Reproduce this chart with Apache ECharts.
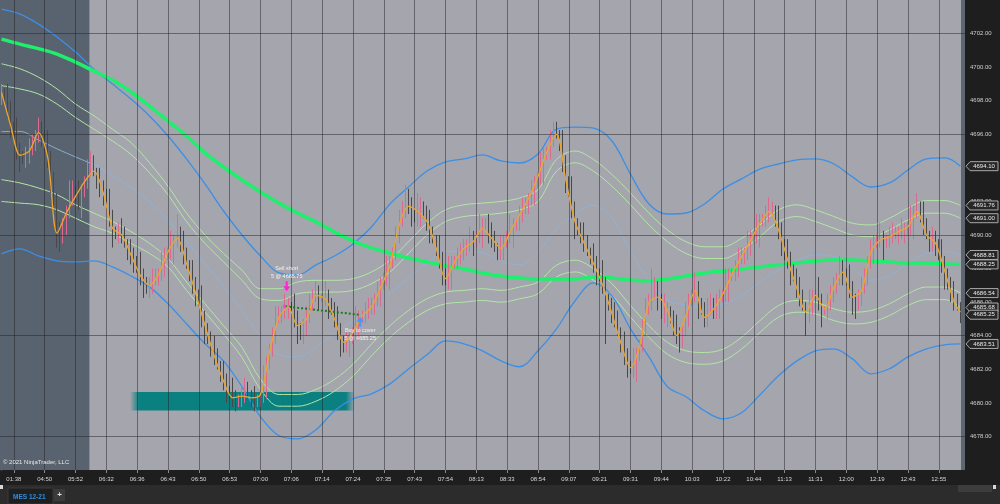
<!DOCTYPE html>
<html><head><meta charset="utf-8">
<script src="https://cdn.jsdelivr.net/npm/echarts@6/dist/echarts.min.js"></script>
<style>html,body{margin:0;padding:0;background:#1e1e1e;overflow:hidden}#c{width:1000px;height:504px}</style>
</head><body><div id="c"></div>
<script>
// ---------- data ----------
const timeLabels = ['01:38','04:50','05:52','06:32','06:36','06:43','06:50','06:53','07:00','07:06','07:14','07:24','07:35','07:43','07:54','08:13','08:33','08:54','09:07','09:21','09:31','09:44','10:03','10:22','10:44','11:13','11:31','12:00','12:19','12:43','12:55'];
const labelBars = [4,14,24,34,44,54,64,74,84,94,104,114,124,134,144,154,164,174,184,194,204,214,224,234,244,254,264,274,284,294,304];
const slotCount = 313;

const opens = [
4698.0,4698.5,4698.25,4697.5,4696.5,4696.0,4695.0,4694.75,4694.5,4694.75,
4695.0,4695.5,4696.0,4696.25,4696.0,4695.25,4694.5,4693.5,4692.0,4690.0,
4689.75,4690.5,4691.5,4692.5,4692.75,4692.25,4692.0,4692.5,4693.25,4694.0,
4694.25,4693.75,4693.25,4692.75,4692.5,4691.75,4691.0,4690.25,4690.0,4690.25,
4690.0,4689.5,4689.0,4688.75,4688.5,4688.0,4687.5,4687.25,4686.75,4687.0,
4687.25,4687.5,4687.75,4688.25,4688.75,4689.0,4689.25,4689.5,4690.0,4689.5,
4688.75,4688.25,4687.75,4687.0,4686.5,4686.0,4685.0,4684.5,4683.75,4683.25,
4682.75,4682.25,4681.75,4681.25,4680.75,4680.5,4680.25,4680.0,4680.25,4680.5,
4680.75,4680.5,4680.25,4680.0,4680.0,4680.5,4681.25,4682.25,4683.25,4684.0,
4685.0,4685.25,4685.5,4685.75,4685.75,4685.5,4685.0,4684.5,4684.0,4684.5,
4685.0,4686.0,4686.5,4686.5,4686.25,4686.25,4686.25,4686.0,4685.5,4685.0,
4684.25,4683.75,4683.5,4683.5,4683.75,4684.25,4684.75,4685.0,4685.25,4685.5,
4685.5,4685.75,4686.25,4686.5,4687.0,4687.5,4687.75,4688.25,4689.0,4690.0,
4690.75,4691.5,4692.0,4691.75,4691.25,4691.0,4691.5,4691.75,4691.25,4690.75,
4690.0,4689.75,4689.25,4688.5,4687.75,4687.25,4687.75,4688.25,4688.5,4688.75,
4688.75,4689.25,4689.5,4689.75,4689.5,4690.0,4690.25,4690.5,4690.75,4690.0,
4689.75,4689.25,4689.0,4689.25,4689.5,4690.0,4690.25,4690.5,4690.75,4691.25,
4691.5,4691.75,4692.25,4692.5,4693.0,4693.5,4694.0,4694.75,4695.0,4695.75,
4696.25,4696.0,4695.5,4694.25,4693.25,4692.5,4691.5,4690.75,4690.25,4690.0,
4689.5,4689.0,4688.75,4688.25,4687.75,4687.5,4687.0,4686.25,4685.75,4685.25,
4685.0,4684.25,4683.5,4682.75,4682.25,4682.0,4682.25,4682.75,4683.5,4684.5,
4685.5,4686.0,4686.75,4686.75,4686.25,4685.25,4685.5,4685.5,4685.0,4684.5,
4684.0,4683.75,4684.5,4685.25,4686.0,4686.5,4686.75,4686.0,4685.5,4685.0,
4685.5,4686.0,4685.5,4685.75,4686.25,4686.5,4687.0,4687.5,4687.75,4688.0,
4688.5,4688.75,4689.0,4689.5,4689.75,4690.0,4690.25,4690.75,4691.0,4691.25,
4691.5,4691.5,4691.0,4690.25,4689.5,4688.75,4688.5,4688.0,4687.5,4686.75,
4686.25,4685.75,4685.25,4686.0,4686.25,4686.5,4686.0,4685.5,4685.5,4686.0,
4686.25,4687.0,4687.5,4688.0,4687.75,4687.25,4686.75,4686.25,4686.0,4686.25,
4686.75,4687.5,4688.5,4689.0,4689.5,4689.75,4689.75,4689.5,4689.75,4690.0,
4690.0,4690.0,4690.25,4690.25,4690.25,4690.5,4690.75,4691.25,4691.5,4691.25,
4690.5,4690.0,4689.5,4689.75,4689.5,4688.75,4688.25,4687.75,4687.0,4686.5,4686.0,4685.75];

const highs = [
4699.0,4698.75,4699.0,4698.0,4696.75,4697.0,4695.5,4695.0,4695.25,4695.75,
4696.0,4696.25,4697.0,4696.75,4696.25,4696.25,4695.0,4693.75,4692.5,4690.75,
4691.0,4691.75,4693.25,4693.25,4693.0,4693.25,4693.0,4693.5,4694.5,4695.0,
4694.75,4694.0,4694.0,4693.25,4692.75,4692.75,4691.5,4690.5,4690.75,4691.0,
4690.5,4689.75,4689.75,4689.25,4688.75,4689.0,4688.0,4687.5,4687.5,4688.0,
4688.0,4688.0,4689.0,4689.25,4689.25,4690.25,4690.0,4691.25,4690.5,4690.25,
4689.25,4688.5,4688.5,4687.5,4686.75,4687.0,4685.5,4684.75,4684.25,4684.0,
4683.25,4682.5,4682.5,4681.75,4681.0,4681.5,4680.75,4680.5,4681.0,4681.5,
4681.25,4680.75,4681.0,4680.5,4680.75,4682.25,4682.75,4683.5,4684.5,4685.75,
4685.75,4685.75,4686.5,4686.25,4686.0,4686.5,4685.5,4684.75,4685.0,4685.75,
4686.5,4686.75,4687.25,4687.0,4686.5,4687.25,4686.75,4686.25,4686.0,4685.75,
4684.75,4684.0,4684.25,4684.25,4684.5,4685.75,4685.5,4685.5,4686.0,4686.25,
4686.25,4686.5,4687.25,4687.5,4687.75,4688.75,4688.75,4689.25,4690.5,4691.5,
4692.0,4693.0,4692.75,4692.25,4691.5,4692.5,4692.25,4692.0,4691.75,4691.5,
4690.5,4690.0,4690.0,4689.0,4688.0,4688.75,4688.75,4688.75,4689.25,4689.5,
4689.75,4689.75,4690.5,4690.25,4690.25,4691.25,4691.0,4691.0,4691.25,4690.75,
4690.25,4689.5,4690.0,4690.0,4690.25,4691.25,4691.0,4691.0,4691.75,4692.25,
4692.25,4692.5,4693.25,4693.5,4693.75,4695.0,4695.25,4695.25,4696.25,4696.75,
4696.75,4696.25,4696.25,4694.75,4693.5,4693.5,4692.0,4691.0,4690.75,4690.75,
4690.0,4689.25,4689.5,4688.75,4688.0,4688.5,4687.5,4686.5,4686.25,4686.0,
4685.5,4684.5,4684.25,4683.25,4682.5,4683.25,4683.25,4683.75,4685.0,4686.25,
4686.5,4688.0,4687.5,4687.25,4686.5,4686.5,4686.0,4685.75,4685.5,4685.25,
4684.5,4684.75,4686.0,4686.5,4686.75,4687.75,4687.25,4686.25,4686.0,4686.25,
4686.5,4686.25,4686.5,4686.75,4686.75,4688.0,4688.0,4688.0,4688.5,4689.25,
4689.25,4689.25,4690.25,4690.25,4690.25,4691.25,4691.25,4691.25,4691.75,4692.25,
4692.0,4691.75,4691.75,4690.75,4689.75,4689.75,4689.0,4688.25,4688.0,4687.5,
4686.75,4686.0,4686.75,4686.75,4686.75,4687.5,4686.5,4685.75,4686.5,4687.0,
4687.5,4687.75,4688.75,4688.5,4688.0,4688.25,4687.25,4686.5,4686.75,4687.5,
4688.0,4688.75,4689.75,4690.0,4690.0,4690.75,4690.25,4690.0,4690.5,4690.75,
4690.5,4690.5,4691.0,4690.75,4690.75,4691.75,4691.75,4692.5,4692.0,4692.0,
4691.0,4690.25,4690.5,4690.25,4689.75,4689.75,4688.75,4688.0,4687.5,4687.25,4686.5,4686.0];

const lows = [
4697.75,4697.75,4697.0,4695.75,4695.75,4694.5,4693.75,4694.25,4694.0,4694.25,
4694.75,4695.0,4695.5,4695.25,4695.0,4694.0,4692.5,4691.75,4689.25,4689.0,
4689.5,4690.0,4691.0,4691.75,4692.0,4691.5,4691.0,4692.25,4692.75,4693.5,
4693.5,4692.75,4692.25,4691.75,4691.5,4690.5,4689.25,4689.75,4689.5,4689.5,
4689.25,4688.5,4688.25,4687.75,4687.75,4687.0,4686.25,4686.5,4686.25,4686.5,
4687.0,4687.0,4687.25,4687.5,4688.5,4688.5,4688.25,4689.25,4689.0,4688.25,
4688.0,4687.25,4686.5,4685.75,4685.75,4684.5,4683.5,4683.5,4682.75,4682.25,
4682.0,4681.25,4680.75,4680.0,4680.25,4679.75,4679.5,4679.75,4679.75,4680.0,
4680.25,4679.75,4679.5,4679.75,4679.75,4680.0,4680.25,4682.0,4682.75,4683.5,
4684.75,4684.75,4685.0,4685.0,4685.25,4684.5,4683.5,4683.75,4683.5,4684.0,
4684.75,4685.5,4686.0,4685.5,4686.0,4685.75,4685.0,4685.25,4684.5,4683.75,
4682.75,4683.0,4683.0,4682.75,4683.5,4683.75,4683.75,4684.75,4684.75,4685.0,
4685.25,4685.25,4685.75,4685.75,4686.75,4687.0,4686.75,4688.0,4688.5,4689.5,
4690.5,4691.0,4691.25,4690.5,4690.75,4690.5,4690.5,4691.0,4690.25,4689.5,
4689.5,4688.75,4688.0,4687.0,4687.0,4686.75,4686.75,4688.0,4688.0,4688.25,
4688.5,4688.75,4689.0,4688.75,4689.25,4689.5,4689.25,4690.25,4689.5,4689.25,
4689.0,4688.5,4688.5,4688.5,4689.25,4689.5,4689.25,4690.25,4690.25,4690.75,
4691.25,4691.25,4691.75,4691.75,4692.75,4693.0,4693.0,4694.5,4694.5,4695.25,
4695.75,4695.0,4693.75,4692.5,4692.25,4691.0,4689.75,4690.0,4689.5,4689.0,
4688.75,4688.25,4687.75,4687.0,4687.25,4686.5,4683.5,4685.5,4684.75,4684.5,
4684.0,4683.0,4682.25,4681.5,4681.75,4681.5,4681.25,4682.5,4683.0,4684.0,
4685.25,4685.5,4686.25,4685.5,4685.0,4684.75,4684.5,4684.75,4684.0,4683.5,
4683.0,4683.25,4684.0,4684.5,4685.75,4686.0,4685.0,4685.25,4684.5,4684.5,
4685.25,4685.0,4685.0,4685.0,4686.0,4686.0,4686.0,4687.25,4687.25,4687.5,
4688.25,4688.25,4688.5,4688.75,4689.5,4689.5,4689.25,4690.5,4690.5,4690.75,
4691.25,4690.5,4689.75,4688.75,4688.5,4688.0,4687.0,4687.25,4686.25,4685.75,
4685.5,4684.0,4684.75,4685.25,4686.0,4685.5,4684.5,4685.25,4685.0,4685.5,
4686.0,4686.5,4687.0,4687.0,4687.0,4686.25,4685.25,4685.0,4685.5,4685.75,
4686.5,4687.0,4688.0,4688.25,4689.25,4689.25,4688.5,4689.25,4689.25,4689.5,
4689.75,4689.5,4689.75,4689.5,4690.0,4690.0,4689.75,4691.0,4690.75,4690.0,
4689.75,4689.0,4689.0,4688.75,4688.5,4687.75,4686.75,4686.75,4686.0,4685.5,4685.5,4684.75];

const closes = [
4698.5,4698.25,4697.5,4696.5,4696.0,4695.0,4694.75,4694.5,4694.75,4695.0,
4695.5,4696.0,4696.25,4696.0,4695.25,4694.5,4693.5,4692.0,4690.0,4689.75,
4690.5,4691.5,4692.5,4692.75,4692.25,4692.0,4692.5,4693.25,4694.0,4694.25,
4693.75,4693.25,4692.75,4692.5,4691.75,4691.0,4690.25,4690.0,4690.25,4690.0,
4689.5,4689.0,4688.75,4688.5,4688.0,4687.5,4687.25,4686.75,4687.0,4687.25,
4687.5,4687.75,4688.25,4688.75,4689.0,4689.25,4689.5,4690.0,4689.5,4688.75,
4688.25,4687.75,4687.0,4686.5,4686.0,4685.0,4684.5,4683.75,4683.25,4682.75,
4682.25,4681.75,4681.25,4680.75,4680.5,4680.25,4680.0,4680.25,4680.5,4680.75,
4680.5,4680.25,4680.0,4680.0,4680.5,4681.25,4682.25,4683.25,4684.0,4685.0,
4685.25,4685.5,4685.75,4685.75,4685.5,4685.0,4684.5,4684.0,4684.5,4685.0,
4686.0,4686.5,4686.5,4686.25,4686.25,4686.25,4686.0,4685.5,4685.0,4684.25,
4683.75,4683.5,4683.5,4683.75,4684.25,4684.75,4685.0,4685.25,4685.5,4685.5,
4685.75,4686.25,4686.5,4687.0,4687.5,4687.75,4688.25,4689.0,4690.0,4690.75,
4691.5,4692.0,4691.75,4691.25,4691.0,4691.5,4691.75,4691.25,4690.75,4690.0,
4689.75,4689.25,4688.5,4687.75,4687.25,4687.75,4688.25,4688.5,4688.75,4688.75,
4689.25,4689.5,4689.75,4689.5,4690.0,4690.25,4690.5,4690.75,4690.0,4689.75,
4689.25,4689.0,4689.25,4689.5,4690.0,4690.25,4690.5,4690.75,4691.25,4691.5,
4691.75,4692.25,4692.5,4693.0,4693.5,4694.0,4694.75,4695.0,4695.75,4696.25,
4696.0,4695.5,4694.25,4693.25,4692.5,4691.5,4690.75,4690.25,4690.0,4689.5,
4689.0,4688.75,4688.25,4687.75,4687.5,4687.0,4686.25,4685.75,4685.25,4685.0,
4684.25,4683.5,4682.75,4682.25,4682.0,4682.25,4682.75,4683.5,4684.5,4685.5,
4686.0,4686.75,4686.75,4686.25,4685.25,4685.5,4685.5,4685.0,4684.5,4684.0,
4683.75,4684.5,4685.25,4686.0,4686.5,4686.75,4686.0,4685.5,4685.0,4685.5,
4686.0,4685.5,4685.75,4686.25,4686.5,4687.0,4687.5,4687.75,4688.0,4688.5,
4688.75,4689.0,4689.5,4689.75,4690.0,4690.25,4690.75,4691.0,4691.25,4691.5,
4691.5,4691.0,4690.25,4689.5,4688.75,4688.5,4688.0,4687.5,4686.75,4686.25,
4685.75,4685.25,4686.0,4686.25,4686.5,4686.0,4685.5,4685.5,4686.0,4686.25,
4687.0,4687.5,4688.0,4687.75,4687.25,4686.75,4686.25,4686.0,4686.25,4686.75,
4687.5,4688.5,4689.0,4689.5,4689.75,4689.75,4689.5,4689.75,4690.0,4690.0,
4690.0,4690.25,4690.25,4690.25,4690.5,4690.75,4691.25,4691.5,4691.25,4690.5,
4690.0,4689.5,4689.75,4689.5,4688.75,4688.25,4687.75,4687.0,4686.5,4686.0,4685.75,4685.25];

const bandBars = [0,6,12,18,24,30,36,42,48,54,60,66,72,78,84,90,96,102,108,114,120,126,132,138,144,150,156,162,168,174,180,186,192,198,204,210,216,222,228,234,240,246,252,258,264,270,276,282,288,294,300,306,311];
const bbUpper = [4703.45,4703.16,4702.56,4701.79,4700.9,4699.88,4698.99,4698.1,4697.09,4695.9,4694.53,4693.04,4691.43,4690.0,4688.75,4687.74,4687.62,4688.22,4688.75,4689.47,4690.48,4691.85,4692.86,4693.81,4694.35,4694.53,4694.77,4694.41,4694.29,4694.83,4696.31,4696.43,4696.37,4695.6,4693.63,4691.85,4691.25,4691.31,4691.85,4692.74,4693.34,4693.93,4694.23,4694.47,4694.53,4694.23,4693.46,4692.86,4693.1,4693.87,4694.53,4694.59,4694.1];
const bbMiddle = [4696.16,4696.17,4695.66,4695.13,4694.65,4694.17,4693.55,4692.83,4692.0,4690.9,4689.62,4688.28,4686.97,4685.48,4683.96,4682.89,4682.74,4683.31,4684.14,4684.86,4685.51,4686.49,4687.44,4688.34,4689.02,4689.03,4688.94,4688.46,4688.22,4688.97,4690.36,4691.25,4691.76,4690.99,4689.02,4687.3,4686.11,4685.84,4685.69,4685.9,4686.38,4687.21,4687.92,4688.49,4688.82,4688.73,4688.04,4687.3,4687.57,4688.31,4688.88,4689.03,4688.81];
const bbLower = [4688.87,4689.17,4688.75,4688.46,4688.4,4688.46,4688.1,4687.56,4686.91,4685.9,4684.71,4683.52,4682.5,4680.96,4679.17,4678.04,4677.86,4678.4,4679.53,4680.24,4680.54,4681.13,4682.02,4682.86,4683.69,4683.52,4683.1,4682.5,4682.15,4683.1,4684.41,4686.07,4687.15,4686.37,4684.41,4682.74,4680.96,4680.36,4679.53,4679.05,4679.41,4680.48,4681.61,4682.5,4683.1,4683.22,4682.62,4681.73,4682.03,4682.74,4683.22,4683.46,4683.51];
const kcUpperOuter = [4700.2,4699.9,4699.4,4698.7,4697.8,4697.1,4696.3,4695.5,4694.3,4692.9,4691.3,4690.0,4688.9,4687.9,4686.8,4686.8,4687.2,4687.3,4687.3,4687.4,4687.8,4688.5,4689.6,4690.7,4691.5,4691.8,4691.9,4692.0,4692.2,4692.7,4694.5,4695.0,4694.5,4693.6,4692.5,4691.3,4690.3,4689.6,4689.3,4689.3,4689.8,4690.6,4691.5,4691.8,4691.5,4691.1,4690.7,4690.6,4691.0,4691.6,4692.05,4692.05,4691.76];
const kcUpperInner = [4698.9,4698.7,4698.4,4697.8,4697.0,4696.3,4695.6,4694.8,4693.7,4692.4,4690.8,4689.5,4688.4,4687.3,4686.2,4686.1,4686.5,4686.6,4686.6,4686.7,4687.1,4687.8,4688.9,4690.0,4690.8,4691.1,4691.2,4691.3,4691.5,4692.0,4693.8,4694.3,4693.8,4692.9,4691.8,4690.6,4689.6,4688.9,4688.6,4688.6,4689.1,4689.9,4690.8,4691.1,4690.8,4690.4,4690.0,4689.9,4690.3,4690.9,4691.3,4691.3,4691.0];
const kcLowerInner = [4693.3,4693.1,4692.8,4692.4,4691.8,4691.3,4690.8,4690.2,4689.5,4688.6,4687.2,4685.9,4684.6,4683.3,4681.4,4680.5,4680.5,4680.8,4681.4,4682.3,4683.5,4684.6,4685.5,4686.2,4686.6,4686.7,4686.8,4686.7,4686.9,4687.2,4688.2,4688.5,4688.0,4687.1,4685.8,4684.6,4683.6,4683.1,4683.0,4683.2,4683.9,4684.9,4685.8,4686.1,4686.0,4685.6,4685.4,4685.5,4685.9,4686.5,4686.9,4686.9,4686.54];
const kcLowerOuter = [4692.0,4691.9,4691.8,4691.5,4691.0,4690.5,4690.1,4689.5,4688.9,4688.1,4686.7,4685.4,4684.1,4682.7,4680.8,4679.8,4679.8,4680.1,4680.7,4681.6,4682.8,4683.9,4684.8,4685.5,4685.9,4686.0,4686.1,4686.0,4686.2,4686.5,4687.5,4687.8,4687.3,4686.4,4685.1,4683.9,4682.9,4682.4,4682.3,4682.5,4683.2,4684.2,4685.1,4685.4,4685.3,4684.9,4684.7,4684.8,4685.2,4685.8,4686.15,4686.15,4685.68];
const slowMA = [4701.67,4701.37,4701.1,4700.78,4700.3,4699.76,4699.23,4698.52,4697.68,4696.79,4695.9,4694.89,4694.05,4693.28,4692.56,4691.9,4691.31,4690.78,4690.18,4689.64,4689.23,4688.93,4688.63,4688.4,4688.16,4687.98,4687.74,4687.56,4687.44,4687.38,4687.38,4687.38,4687.5,4687.44,4687.32,4687.27,4687.38,4687.56,4687.74,4687.86,4687.98,4688.1,4688.22,4688.33,4688.45,4688.51,4688.51,4688.45,4688.39,4688.33,4688.33,4688.27,4688.25];

const fastBars = [0,3,6,9,12,15,18,21,24,27,30,33,36,39,42,45,48,51,54,57,60,63,66,69,72,75,78,81,84,87,90,93,96,99,102,105,108,111,114,117,120,123,126,129,132,135,138,141,144,147,150,153,156,159,162,165,168,171,174,177,180,183,186,189,192,195,198,201,204,207,210,213,216,219,222,225,228,231,234,237,240,243,246,249,252,255,258,261,264,267,270,273,276,279,282,285,288,291,294,297,300,303,306,309,311];
const fastMA = [4698.5,4696.5,4694.75,4695.0,4696.1,4694.6,4690.1,4691.3,4692.3,4693.2,
4693.8,4692.5,4690.4,4690.0,4688.8,4687.6,4687.0,4687.7,4689.0,4689.8,
4688.3,4686.5,4684.6,4682.8,4681.3,4680.3,4680.4,4680.3,4680.5,4683.1,
4685.1,4685.7,4684.6,4685.0,4686.4,4686.2,4685.0,4683.6,4684.2,4685.2,
4685.7,4686.9,4688.2,4690.6,4691.7,4691.4,4690.8,4689.2,4687.4,4688.4,
4689.2,4689.6,4690.4,4689.8,4689.2,4690.2,4691.2,4692.2,4693.5,4695.0,
4696.0,4693.3,4690.8,4689.5,4688.3,4687.0,4685.3,4683.5,4682.1,4683.4,
4686.0,4686.3,4685.5,4684.0,4685.2,4686.7,4685.1,4685.6,4686.5,4687.7,
4688.7,4689.7,4690.7,4691.4,4690.3,4688.5,4686.8,4685.4,4686.4,4685.6,
4686.9,4687.8,4686.3,4686.7,4689.0,4689.7,4689.9,4690.2,4690.5,4691.4,
4690.0,4689.5,4687.8,4686.0,4685.4];

const gridPrices = [4678,4684,4690,4696,4702];
const sessionShade = [-0.5, 28.5];
const marginShade = [311.2, 312.5];
const zoneBars = [41.7, 114.6];
const zonePrices = [4680.65, 4679.55];
const tradeBars = [92, 116];
const tradePrices = [4685.75, 4685.25];
const tradeTexts = [['Sell short','5 @ 4685.75'],['Buy to cover','5 @ 4685.25']];
const priceMarkers = [4694.10,4691.76,4691.00,4688.81,4688.25,4686.54,4685.68,4685.25,4683.51];

// ---------- build ----------
const categories = Array.from({length: slotCount}, () => '');
labelBars.forEach((b, k) => { categories[b] = timeLabels[k]; });
const candleData = opens.map((o, i) => [o, closes[i], lows[i], highs[i]]);
const pair = (xs, ys) => xs.map((x, i) => [x, ys[i]]);
const FONT = '"Liberation Sans", Arial, sans-serif';

function bandLine(name, ys, color, width, z, opacity) {
  return {name, id:name, type:'line', xAxisIndex:1, yAxisIndex:0, data: pair(bandBars, ys),
    showSymbol:false, smooth:0.35, z, silent:true,
    lineStyle:{color, width, opacity: opacity == null ? 1 : opacity}};
}

const chart = echarts.init(document.getElementById('c'), null, {renderer:'canvas'});
const gridLineColor = 'rgba(35,35,40,0.5)';
chart.setOption({
  animation:false,
  backgroundColor:'#1e1e1e',
  grid:{left:0, top:0, right:35, bottom:34, show:true, backgroundColor:'#a5a5ad', borderWidth:0, containLabel:false, outerBoundsMode:'none'},
  xAxis:[
    {type:'category', data:categories, boundaryGap:true,
     axisLine:{show:false},
     axisTick:{show:true, alignWithLabel:true, length:3, interval:(i)=>categories[i] !== '', lineStyle:{color:'#8a8a8a'}},
     axisLabel:{show:true, interval:(i)=>categories[i] !== '', color:'#d6d6d6', fontSize:6, fontFamily:FONT, margin:6},
     splitLine:{show:false}},
    {type:'value', min:-0.5, max:slotCount-0.5, show:false}
  ],
  yAxis:{type:'value', position:'right', min:4676, max:4704, interval:2, scale:true,
     axisLine:{show:true, lineStyle:{color:'#8c8c8c'}},
     axisTick:{show:true, length:3, lineStyle:{color:'#8c8c8c'}},
     axisLabel:{color:'#cfcfcf', fontSize:6, fontFamily:FONT, margin:5, showMinLabel:false, showMaxLabel:false,
       formatter:(v)=>v.toFixed(2)},
     splitLine:{show:false}},
  series:[
    {name:'bg', id:'bg', type:'line', xAxisIndex:1, yAxisIndex:0, data:[[0, 4690]], showSymbol:false, lineStyle:{opacity:0}, z:0, silent:true,
     markArea:{silent:true, data:[
       [{xAxis:sessionShade[0], itemStyle:{color:'#59636f'}},{xAxis:sessionShade[1]}],
       [{xAxis:marginShade[0], itemStyle:{color:'#5d6671'}},{xAxis:marginShade[1]}]
     ]},
     markLine:{silent:true, symbol:'none', label:{show:false}, lineStyle:{color:gridLineColor, width:1, type:'solid'},
       data: gridPrices.map(p=>({yAxis:p})).concat(labelBars.map(b=>({xAxis:b})))}
    },
    {name:'zone', id:'zone', type:'line', xAxisIndex:1, yAxisIndex:0, data:[[0, 4690]], showSymbol:false, lineStyle:{opacity:0}, z:1, silent:true,
     markArea:{silent:true, data:[[
       {coord:[zoneBars[0], zonePrices[0]], itemStyle:{color:new echarts.graphic.LinearGradient(0,0,1,0,[
         {offset:0, color:'rgba(10,128,128,0)'},{offset:0.04, color:'rgba(10,128,128,1)'},
         {offset:0.96, color:'rgba(10,128,128,1)'},{offset:1, color:'rgba(10,128,128,0)'}])}},
       {coord:[zoneBars[1], zonePrices[1]]}
     ]]}
    },
    bandLine('bbMiddle', bbMiddle, '#8fb2d6', 1, 2, 0.9),
    bandLine('kcUO', kcUpperOuter, '#b3e6a6', 1, 2),
    bandLine('kcUI', kcUpperInner, '#b3e6a6', 1, 2),
    bandLine('kcLI', kcLowerInner, '#b3e6a6', 1, 2),
    bandLine('kcLO', kcLowerOuter, '#b3e6a6', 1, 2),
    bandLine('bbUpper', bbUpper, '#3b8fe6', 1.3, 2),
    bandLine('bbLower', bbLower, '#3b8fe6', 1.3, 2),
    bandLine('slowMA', slowMA, '#1ef06e', 3.5, 3),
    {name:'price', id:'price', type:'candlestick', xAxisIndex:0, yAxisIndex:0, data:candleData, barWidth:1.2, z:4, silent:true,
     itemStyle:{color:'#dc6a8e', color0:'#484848', borderColor:'#dc6a8e', borderColor0:'#484848', borderWidth:1}},
    {name:'fastMA', id:'fastMA', type:'line', xAxisIndex:1, yAxisIndex:0, data:pair(fastBars, fastMA), showSymbol:false, smooth:0.3, z:5, silent:true,
     lineStyle:{color:'#eea52f', width:1.3}},
    {name:'trade', id:'trade', type:'line', xAxisIndex:1, yAxisIndex:0, data:pair(tradeBars, tradePrices), showSymbol:false, lineStyle:{opacity:0}, z:6, silent:true,
     markLine:{silent:true, symbol:'none', label:{show:false}, lineStyle:{color:'#1c7d1c', width:2, type:'dotted'},
       data:[[{coord:[tradeBars[0], tradePrices[0]]},{coord:[tradeBars[1], tradePrices[1]]}]]}}
  ]
});

// ---------- overlay graphics (positions from the chart's own scales) ----------
const W = chart.getWidth(), H = chart.getHeight();
const g = [];
const axisX = W - 35;
priceMarkers.forEach(v => {
  const y = chart.convertToPixel({yAxisIndex:0}, v);
  g.push({type:'polygon', z:100, shape:{points:[[axisX+1,y],[axisX+5,y-4.5],[W-2,y-4.5],[W-2,y+4.5],[axisX+5,y+4.5]]},
    style:{fill:'#272727', stroke:'#a9a9a9', lineWidth:1}});
  g.push({type:'text', z:101, x:(axisX+5+W-2)/2, y:y, style:{text:v.toFixed(2), fill:'#e8e8e8', font:'6px '+FONT, align:'center', verticalAlign:'middle'}});
});
const ep = chart.convertToPixel({seriesId:'trade'}, [tradeBars[0], tradePrices[0]]);
const bp = chart.convertToPixel({seriesId:'trade'}, [tradeBars[1], tradePrices[1]]);
const ex = ep[0], ey = ep[1], bx = bp[0], by = bp[1];
g.push({type:'rect', z:90, shape:{x:ex-2, y:ey-1.5, width:3, height:3}, style:{fill:'#ff3fbf'}});
g.push({type:'polygon', z:90, shape:{points:[[ex+0.5,ey-25],[ex+2.5,ey-25],[ex+2.5,ey-20],[ex+5,ey-20],[ex+1.5,ey-15],[ex-2,ey-20],[ex+0.5,ey-20]]}, style:{fill:'#ff22d0'}});
g.push({type:'text', z:90, x:ex+1.5, y:ey-38, style:{text:tradeTexts[0][0], fill:'#f2f2f2', font:'5.5px '+FONT, align:'center', verticalAlign:'middle'}});
g.push({type:'text', z:90, x:ex+1.5, y:ey-30, style:{text:tradeTexts[0][1], fill:'#f2f2f2', font:'5.5px '+FONT, align:'center', verticalAlign:'middle'}});
g.push({type:'polygon', z:90, shape:{points:[[bx+1,by+2],[bx+4.5,by+7],[bx+2,by+7],[bx+2,by+12],[bx,by+12],[bx,by+7],[bx-2.5,by+7]]}, style:{fill:'#3d9bff'}});
g.push({type:'text', z:90, x:bx+1, y:by+16, style:{text:tradeTexts[1][0], fill:'#f2f2f2', font:'5.5px '+FONT, align:'center', verticalAlign:'middle'}});
g.push({type:'text', z:90, x:bx+1, y:by+24, style:{text:tradeTexts[1][1], fill:'#f2f2f2', font:'5.5px '+FONT, align:'center', verticalAlign:'middle'}});
g.push({type:'text', z:90, x:3, y:462, style:{text:'© 2021 NinjaTrader, LLC', fill:'#e6e6e6', font:'6px '+FONT, verticalAlign:'middle'}});
g.push({type:'rect', z:50, shape:{x:0, y:485, width:W, height:H-485}, style:{fill:'#2c2c2c'}});
g.push({type:'rect', z:51, shape:{x:0, y:485, width:3, height:4}, style:{fill:'#d8d8d8'}});
g.push({type:'rect', z:51, shape:{x:958, y:485, width:34, height:7}, style:{fill:'#3d3d3d'}});
g.push({type:'rect', z:51, shape:{x:993, y:485, width:3, height:4}, style:{fill:'#d8d8d8'}});
g.push({type:'rect', z:51, shape:{x:8, y:488, width:45, height:16}, style:{fill:'#1f1f1f', stroke:'#3a3a3a', lineWidth:1}});
g.push({type:'text', z:52, x:13, y:497, style:{text:'MES 12-21', fill:'#2f8ee2', font:'bold 6.5px '+FONT, verticalAlign:'middle'}});
g.push({type:'rect', z:51, shape:{x:54, y:489, width:11, height:12}, style:{fill:'#3b3b3b'}});
g.push({type:'text', z:52, x:59.5, y:495, style:{text:'+', fill:'#e0e0e0', font:'bold 8px '+FONT, align:'center', verticalAlign:'middle'}});
chart.setOption({graphic:{elements:g}});
</script>
</body></html>
